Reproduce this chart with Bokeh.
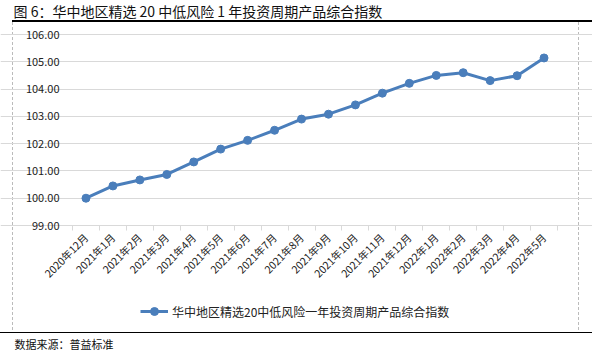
import math
from bokeh.plotting import figure
from bokeh.models import (FixedTicker, Legend, LegendItem, Label, LinearAxis, Grid,
                          NumeralTickFormatter, Range1d)
from bokeh.embed import file_html
from bokeh.resources import INLINE

title_text = "图 6：华中地区精选 20 中低风险 1 年投资周期产品综合指数"
source_text = "数据来源：普益标准"
series_name = "华中地区精选20中低风险一年投资周期产品综合指数"
months = ["2020年12月", "2021年1月", "2021年2月", "2021年3月", "2021年4月", "2021年5月",
          "2021年6月", "2021年7月", "2021年8月", "2021年9月", "2021年10月", "2021年11月",
          "2021年12月", "2022年1月", "2022年2月", "2022年3月", "2022年4月", "2022年5月"]
values = [100.00, 100.45, 100.67, 100.87, 101.33, 101.80, 102.12, 102.49, 102.90, 103.08,
          103.42, 103.85, 104.21, 104.50, 104.60, 104.31, 104.49, 105.14]
y_ticks = [99, 100, 101, 102, 103, 104, 105, 106]

FONT = "Noto Sans CJK SC"
BLUE = "#4A7EBB"
W, H = 592, 354
# plot-area placement on the page (pixels)
PL, PR, PT, PB = 72, 557, 34, 225
n = len(months)
ymin, ymax = y_ticks[0], y_ticks[-1]

ux = (PR - PL) / n            # px per category
uy = (PB - PT) / (ymax - ymin)  # px per index point
x0 = -PL / ux
x1 = n + (W - PR) / ux
y1 = ymax + PT / uy
y0 = ymin - (H - PB) / uy


def px_x(px):
    return x0 + px / ux


def px_y(py):
    return y1 - py / uy


xs = [i + 0.5 for i in range(n)]

page_css = {
    "background": ("linear-gradient(#000,#000) 12px 20px / 580px 2px no-repeat, "
                   "linear-gradient(#000,#000) 0px 332px / 592px 1px no-repeat, "
                   "repeating-linear-gradient(to bottom, #BBBBBB 0px, #BBBBBB 3px, transparent 3px, transparent 5px) 12px 22px / 1px 310px no-repeat, "
                   "repeating-linear-gradient(to bottom, #BBBBBB 0px, #BBBBBB 3px, transparent 3px, transparent 5px) 578px 22px / 1px 310px no-repeat, "
                   "#FFFFFF"),
}

p = figure(width=W, height=H, output_backend="svg", toolbar_location=None,
           x_range=Range1d(x0, x1), y_range=Range1d(y0, y1),
           x_axis_location=None, y_axis_location=None, min_border=0, styles=page_css)
p.outline_line_color = None
p.background_fill_alpha = 0
p.border_fill_alpha = 0
p.center = []

# axes drawn at the plot-area edges
xa = LinearAxis(fixed_location=ymin, bounds=(0, n))
xa.ticker = FixedTicker(ticks=xs, minor_ticks=list(range(n + 1)))
xa.major_label_overrides = {x: m for x, m in zip(xs, months)}
xa.major_label_orientation = math.pi / 4
xa.major_tick_line_color = None
xa.minor_tick_in = 0
xa.minor_tick_out = 5
xa.minor_tick_line_color = "#D9D9D9"
xa.axis_line_color = "#D9D9D9"
xa.major_label_text_font = FONT
xa.major_label_text_font_size = "10.5px"
xa.major_label_text_color = "#222222"
xa.major_label_standoff = 4
p.add_layout(xa, "below")

ya = LinearAxis(fixed_location=0, bounds=(ymin, ymax))
ya.ticker = FixedTicker(ticks=y_ticks)
ya.formatter = NumeralTickFormatter(format="0.00")
ya.axis_line_color = None
ya.major_tick_line_color = None
ya.minor_tick_line_color = None
ya.major_label_text_font = FONT
ya.major_label_text_font_size = "11px"
ya.major_label_text_color = "#222222"
ya.major_label_standoff = 7
p.add_layout(ya, "left")

p.add_layout(Grid(dimension=1, ticker=ya.ticker, bounds=(0, n),
                  grid_line_color="#D9D9D9", grid_line_width=1))

r = p.line(xs, values, line_color=BLUE, line_width=3)
c = p.scatter(xs, values, size=8, fill_color=BLUE, line_color=BLUE)

legend = Legend(items=[LegendItem(label=series_name, renderers=[r, c])],
                location=(140, H - 311 - 10), orientation="horizontal",
                label_text_font=FONT, label_text_font_size="12px", label_text_color="#222222",
                border_line_color=None, background_fill_alpha=0, glyph_width=28,
                glyph_height=20, label_height=20,
                label_standoff=4, padding=0, margin=0)
p.add_layout(legend, "center")

p.add_layout(Label(x=px_x(13), y=px_y(10), text=title_text, text_font=FONT,
                   text_font_size="14px", text_color="#111111",
                   text_baseline="middle", text_align="left"))
p.add_layout(Label(x=px_x(14), y=px_y(343), text=source_text, text_font=FONT,
                   text_font_size="11px", text_color="#111111",
                   text_baseline="middle", text_align="left"))

open("out.html", "w").write(file_html(p, INLINE))
